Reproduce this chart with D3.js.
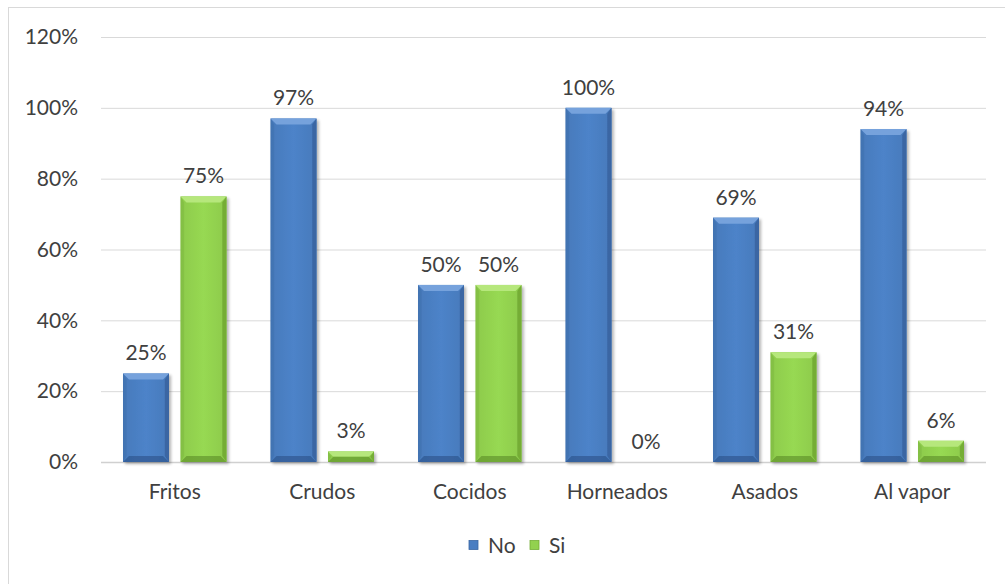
<!DOCTYPE html>
<html>
<head>
<meta charset="utf-8">
<script src="https://cdn.jsdelivr.net/npm/d3@7"></script>
<style>
  html, body { margin: 0; padding: 0; background: #fff; }
  svg { display: block; }
  text { font-family: Lato, "Open Sans", sans-serif; fill: #404040; }
</style>
</head>
<body>
<svg id="chart" width="1005" height="584"></svg>
<script>
// Cooking methods and share of answers per method
const categories = ["Fritos", "Crudos", "Cocidos", "Horneados", "Asados", "Al vapor"];
const seriesNames = ["No", "Si"];
const noValues = [25, 97, 50, 100, 69, 94];
const siValues = [75, 3, 50, 0, 31, 6];
const yTicks = [0, 20, 40, 60, 80, 100, 120];

const FONT = 'Lato, "Open Sans", sans-serif';
const FS = 21;
const colors = { No: "#4a7ec2", Si: "#92d14f" };
const shades = {
  No: { light: "#76a2dc", dark: "#3a66a3", darker: "#2f5790" },
  Si: { light: "#b6e77c", dark: "#74ad36", darker: "#63962c" }
};

const svg = d3.select("#chart");
const margin = { left: 101, right: 1005 - 986, top: 37, bottom: 584 - 462 };
const width = 1005, height = 584;

// chart frame
svg.append("rect")
  .attr("x", 8.5).attr("y", 7.5)
  .attr("width", 1010).attr("height", 600)
  .attr("fill", "#fff").attr("stroke", "#d9d9d9").attr("stroke-width", 1);

const x = d3.scaleBand()
  .domain(categories)
  .range([margin.left, width - margin.right])
  .paddingInner(0).paddingOuter(0);

const inner = d3.scaleBand()
  .domain(seriesNames)
  .range([22, x.bandwidth() - 22])
  .paddingInner(0.2);

const y = d3.scaleLinear()
  .domain([0, 120])
  .range([height - margin.bottom, margin.top]);

// gridlines and percentage ticks
const yAxis = d3.axisLeft(y)
  .tickValues(yTicks)
  .tickSize(-(width - margin.left - margin.right))
  .tickFormat(d => d + "%")
  .tickPadding(23);

const gy = svg.append("g")
  .attr("transform", `translate(${margin.left},0)`)
  .call(yAxis);
gy.select(".domain").remove();
gy.selectAll(".tick line").attr("stroke", "#d9d9d9").attr("stroke-width", 1);
gy.selectAll(".tick text")
  .attr("font-size", FS)
  .attr("fill", "#595959")
  .style("font-family", FONT);
gy.selectAll(".tick").filter(d => d === 0).select("line")
  .attr("stroke", "#d0d0d0").attr("stroke-width", 1.5);

// drop shadow for bars
const defs = svg.append("defs");
const f = defs.append("filter").attr("id", "shadow")
  .attr("x", "-20%").attr("y", "-20%").attr("width", "150%").attr("height", "150%");
f.append("feGaussianBlur").attr("in", "SourceAlpha").attr("stdDeviation", 1.6).attr("result", "b");
f.append("feOffset").attr("in", "b").attr("dx", 2).attr("dy", 2).attr("result", "o");
f.append("feComponentTransfer").attr("in", "o").attr("result", "s")
  .append("feFuncA").attr("type", "linear").attr("slope", 0.3);
const fm = f.append("feMerge");
fm.append("feMergeNode").attr("in", "s");
fm.append("feMergeNode").attr("in", "SourceGraphic");

seriesNames.forEach(name => {
  const g = defs.append("linearGradient").attr("id", "face-" + name)
    .attr("x1", 0).attr("x2", 1).attr("y1", 0).attr("y2", 0);
  g.append("stop").attr("offset", "0%").attr("stop-color", d3.color(colors[name]).darker(0.1));
  g.append("stop").attr("offset", "50%").attr("stop-color", d3.color(colors[name]).brighter(0.1));
  g.append("stop").attr("offset", "100%").attr("stop-color", d3.color(colors[name]).darker(0.1));
});

const rows = categories.map((c, i) => ({ cat: c, values: [
  { name: "No", v: noValues[i] },
  { name: "Si", v: siValues[i] }
]}));

const groups = svg.append("g").selectAll("g.cat")
  .data(rows).join("g")
  .attr("class", "cat")
  .attr("transform", d => `translate(${x(d.cat)},0)`);

const bars = groups.selectAll("g.bar")
  .data(d => d.values).join("g")
  .attr("class", "bar");

bars.each(function (d) {
  if (d.v <= 0) return;
  const g = d3.select(this).append("g").attr("filter", "url(#shadow)");
  const x0 = inner(d.name), w = inner.bandwidth();
  const y0 = y(d.v), y1 = y(0);
  const h = y1 - y0;
  const b = Math.min(6, h / 2, w / 2);
  const sh = shades[d.name];
  g.append("rect").attr("x", x0).attr("y", y0).attr("width", w).attr("height", h)
    .attr("fill", `url(#face-${d.name})`);
  // bevel: top, left, right, bottom
  g.append("polygon").attr("fill", sh.light)
    .attr("points", [[x0, y0], [x0 + w, y0], [x0 + w - b, y0 + b], [x0 + b, y0 + b]].join(" "));
  g.append("polygon").attr("fill", sh.dark).attr("opacity", 0.35)
    .attr("points", [[x0, y0], [x0 + b * 0.6, y0 + b], [x0 + b * 0.6, y1 - b], [x0, y1]].join(" "));
  g.append("polygon").attr("fill", sh.dark)
    .attr("points", [[x0 + w, y0], [x0 + w, y1], [x0 + w - b * 0.7, y1 - b], [x0 + w - b * 0.7, y0 + b]].join(" "));
  g.append("polygon").attr("fill", sh.darker).attr("opacity", 0.7)
    .attr("points", [[x0, y1], [x0 + w, y1], [x0 + w - b, y1 - b], [x0 + b, y1 - b]].join(" "));
});

// value labels
bars.append("text")
  .attr("x", d => inner(d.name) + inner.bandwidth() / 2)
  .attr("y", d => y(d.v) - 13)
  .attr("text-anchor", "middle")
  .attr("font-size", FS)
  .text(d => d.v + "%");

// category axis labels
const gx = svg.append("g")
  .attr("transform", `translate(0,${y(0)})`)
  .call(d3.axisBottom(x).tickSize(0).tickPadding(22));
gx.select(".domain").remove();
gx.selectAll(".tick text")
  .attr("font-size", FS)
  .attr("fill", "#595959")
  .style("font-family", FONT);

// legend
const legend = svg.append("g").attr("transform", "translate(469,545)");
const items = legend.selectAll("g").data(seriesNames).join("g")
  .attr("transform", (d, i) => `translate(${i * 61},0)`);
items.append("rect").attr("x", 0).attr("y", -4.5).attr("width", 9).attr("height", 9)
  .attr("fill", d => colors[d]).attr("stroke", d => shades[d].dark).attr("stroke-width", 0.8);
items.append("text").attr("x", 19).attr("y", 8)
  .attr("font-size", FS).attr("fill", "#595959")
  .text(d => d);
</script>
</body>
</html>
